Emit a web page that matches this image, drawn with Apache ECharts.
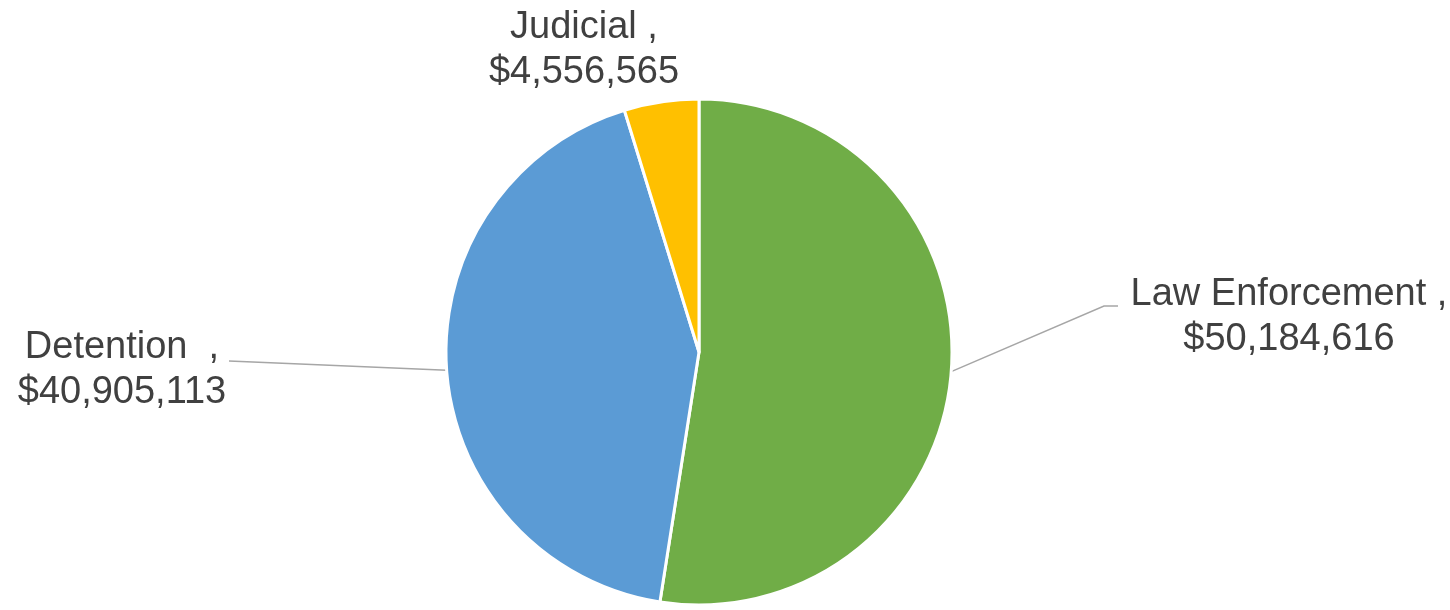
<!DOCTYPE html>
<html>
<head>
<meta charset="utf-8">
<script src="https://cdn.jsdelivr.net/npm/echarts@6/dist/echarts.min.js"></script>
<style>
  html, body { margin: 0; padding: 0; background: #ffffff; }
  #chart { width: 1450px; height: 610px; }
</style>
</head>
<body>
<div id="chart"></div>
<script>
// Spending by category
const categories = ['Law Enforcement', 'Detention ', 'Judicial'];
const amounts = [50184616, 40905113, 4556565];
const colors = ['#70AD47', '#5B9BD5', '#FFC000'];

const money = v => '$' + v.toLocaleString('en-US');

const chart = echarts.init(document.getElementById('chart'), null, { renderer: 'canvas' });

const data = categories.map((name, i) => ({
  name: name,
  value: amounts[i],
  itemStyle: { color: colors[i] },
  labelLine: { show: i !== 2 }
}));

// Label placement for each slice (centre of the text block, plus the leader path)
const labelPlaces = [
  { x: 1289, y: 317, bend: [1104, 306], end: [1118, 306] },
  { x: 122, y: 370, bend: [300, 364], end: [229, 361] },
  { x: 584, y: 50 }
];

chart.setOption({
  animation: false,
  series: [{
    type: 'pie',
    center: [699, 352],
    radius: 253,
    startAngle: 90,
    clockwise: true,
    avoidLabelOverlap: false,
    emphasis: { disabled: true },
    itemStyle: { borderColor: '#ffffff', borderWidth: 3 },
    label: {
      show: true,
      position: 'outside',
      formatter: p => p.name + ' ,\n' + money(p.value),
      fontFamily: 'Liberation Sans, Arial, sans-serif',
      fontSize: 38,
      lineHeight: 45,
      color: '#404040',
      align: 'center'
    },
    labelLine: {
      show: true,
      length: 20,
      length2: 20,
      lineStyle: { color: '#A6A6A6', width: 1.5 }
    },
    labelLayout: function (params) {
      const place = labelPlaces[params.dataIndex];
      const out = { x: place.x, y: place.y, align: 'center', verticalAlign: 'middle' };
      if (place.bend && params.labelLinePoints) {
        out.labelLinePoints = [params.labelLinePoints[0], place.bend, place.end];
      }
      return out;
    },
    data: data
  }]
});
</script>
</body>
</html>
